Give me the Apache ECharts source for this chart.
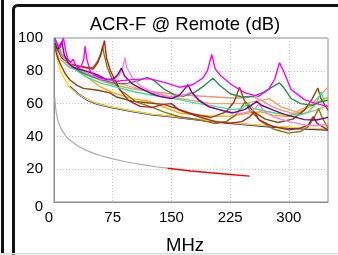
<!DOCTYPE html>
<html>
<head>
<meta charset="utf-8">
<script src="https://cdn.jsdelivr.net/npm/echarts@6/dist/echarts.min.js"></script>
<style>
html,body{margin:0;padding:0;background:#fff;}
#chart{width:338px;height:255px;}
</style>
</head>
<body>
<div id="chart"></div>
<script>
// axis ticks
var xTicks = [0, 75, 150, 225, 300];
var yTicks = [0, 20, 40, 60, 80, 100];

// limit lines [MHz, dB]
var limitGray = [[1,63.8],[2,57.8],[3,54.3],[5,49.8],[7,46.9],[10,43.8],[15,40.3],[20,37.8],[30,34.3],[40,31.8],[50,29.8],[60,28.2],[75,26.3],[90,24.7],[100,23.8],[115,22.6],[130,21.5],[145,20.6]];
var limitRed = [[145,20.6],[175,18.9],[200,17.8],[225,16.8],[250,15.8]];
var limitBlue = [[20,70.5],[30,66.2],[42,62.3],[55,59.8],[71.5,57.9],[100,55.3],[125,53.3],[150,52],[190,49.8],[228,48],[270,46.2],[310,44.9],[350,44]];
var limitGold = [[1,97],[3,90],[5.5,84.5],[8,80],[12,76.4],[18,71],[25,68],[30,66],[42,62.5],[55,60],[71.5,58.1],[100,55.5],[125,53.5],[150,52.2],[190,50],[228,48.2],[270,46.5],[310,45.3],[350,44.5]];

// measured pairs [MHz, dB]
var pairOrange = [[1,100],[5,94],[10,88],[20,83],[40,77],[60,70],[76,66.5],[100,63],[122,61.4],[140,58],[160,54.3],[185,53],[206,52.2],[228,52.5],[249,54.3],[265,55],[280,53],[299,52],[315,55],[330,59],[350,64]];
var pairSandy = [[1,98],[10,90],[30,82],[60,76],[100,70],[150,64],[200,60],[240,60],[265,62],[275,63],[290,58],[310,55],[330,60],[350,70]];
var pairSalmon = [[1,95],[6,88],[20,82],[40,78.7],[60,74],[76,71.5],[100,69],[122,67.5],[140,66.5],[160,65.4],[190,64.5],[228,63.4],[245,63.5],[253,64.4],[265,62],[278,58.3],[290,56],[303,54.3],[320,54],[335,56],[350,59]];
var pairBrown = [[1,95],[4,89],[7.7,84.5],[14,78.5],[20.4,74.4],[29,71.3],[37.5,69.3],[54.5,68.3],[71.5,66.5],[80,64],[101,61.4],[122,60.4],[140,59.5],[150,58],[175,54],[200,51.5],[220,55],[230,61],[237,70],[243,62],[255,55],[270,50.5],[286,48.5],[305,50.5],[320,56],[330,63],[337,69.5],[341,63],[350,56]];
var pairFirebrick = [[1,97],[10,88],[20,84],[30,83],[40,82],[50,81],[56,85],[60,90],[64.5,98.5],[67,88],[72,80],[84,68.5],[95,62],[110,58.3],[126,57.7],[140,59.5],[150,60],[160,56],[185,52],[206,49],[225,48],[240,49],[250,52],[256,55],[262,50],[280,46],[300,44],[315,45],[325,47],[331,52],[336,48],[350,44]];
var pairOlive = [[1,96],[10,88],[20,84],[30,83],[40,82],[50,82],[56,86],[60,91],[62,95],[64,90],[68,82],[75,74],[85,68],[93,65.4],[105,61],[122,58.3],[140,55],[160,52],[185,50.2],[206,47.8],[220,49],[232,53],[240,58],[244,61],[250,56],[265,49],[280,44.5],[299,42],[315,43],[325,46],[333,52],[338,57],[342,52],[350,45]];
var pairSpring = [[1,100],[5,95],[10,89],[20,83],[40,76.5],[60,72.5],[76,70.5],[100,67.5],[122,65.4],[140,64],[160,62.4],[185,60],[206,58.3],[228,56.3],[240,57],[248,60],[255,57],[270,55.5],[285,54],[299,53.3],[315,53],[325,55],[335,60],[341,67],[345,62],[350,62]];
var pairSeagreen = [[1,100],[10,90],[20,84],[35,79],[50,76],[65,74],[80,72],[95,72.5],[108,74],[119,76],[128,74],[140,69],[155,65],[165,64.5],[180,67],[192,71],[203,75.5],[212,71],[225,66],[240,64],[255,64.5],[268,67],[280,70.5],[288,72.6],[293,70],[303,63],[315,60],[330,59],[340,61],[350,62]];
var pairPurple = [[1,97],[5,93],[10,98],[13,90],[18,85],[25,82],[40,80],[55,77.6],[67,74.6],[76,75],[82,78],[86,81.7],[90,77],[100,72],[110,69.5],[125,66],[135,64.4],[150,63],[160,65],[167,69],[171,71.5],[176,67],[185,62],[198,58],[211,56.3],[228,54.3],[244,56.5],[255,60],[259,61.4],[265,59],[280,56],[295,53.3],[320,50.2],[335,50],[350,51.6]];
var pairViolet = [[1,97],[10,90],[20,84],[40,79],[60,75],[75,74],[83,77],[88,82],[90.6,88],[93,82],[100,76],[110,71],[125,67],[145,64],[165,65],[175,67],[180,64],[200,58],[220,55],[240,54],[255,56],[262,60],[267,56],[280,52],[300,49],[320,47],[335,46.5],[350,47.5]];
var pairMagenta = [[1,99],[5,96],[8,94],[12,100],[15,92],[18,87],[21,85],[24.7,87],[27,84],[31,82],[35,83],[38,87],[39.6,95],[42,87],[46,80],[52,77],[59,75.6],[72,74.6],[80,73.6],[100,74.6],[122,75.2],[143,72.6],[160,70],[177,71.5],[190,75.5],[196,80],[201.5,90],[206,81],[213,77],[227,71.5],[244,66.5],[261,64.4],[274,68.5],[282,75],[288,85],[294,79],[303,68.5],[320,62.4],[335,60],[350,58.3]];

function mk(data, color, w) {
	return {
		type: 'line',
		data: data,
		symbol: 'none',
		smooth: false,
		clip: true,
		lineStyle: { color: color, width: w || 1.4 }
	};
}

var myChart = echarts.init(document.getElementById('chart'));
var option = {
	animation: false,
	backgroundColor: '#fff',
	title: [{
		text: 'ACR-F @ Remote (dB)',
		left: 180,
		top: 10,
		textAlign: 'center',
		textStyle: { fontFamily: 'Liberation Sans', fontWeight: 'normal', fontSize: 18.5, color: '#000' }
	}, {
		text: 'MHz',
		left: 180,
		top: 231,
		textAlign: 'center',
		textStyle: { fontFamily: 'Liberation Sans', fontWeight: 'normal', fontSize: 18.5, color: '#000' }
	}],
	grid: {
		left: 54, right: 10, top: 38, bottom: 53,
		show: true, borderColor: '#8c8c8c', borderWidth: 1
	},
	xAxis: {
		type: 'value', min: xTicks[0], max: 350, interval: xTicks[1] - xTicks[0],
		axisLine: { lineStyle: { color: '#8c8c8c' } },
		axisTick: { show: false },
		splitLine: { lineStyle: { color: '#c4c4c4', type: [1, 2] } },
		axisLabel: {
			showMaxLabel: false, margin: 8,
			fontFamily: 'Liberation Sans', fontSize: 15, color: '#000',
			formatter: function (v) { return v === 0 ? '{z|0}' : String(v); },
			rich: { z: { fontFamily: 'Liberation Sans', fontSize: 15, color: '#000', padding: [0, 10, 0, 0] } }
		}
	},
	yAxis: {
		type: 'value', min: yTicks[0], max: yTicks[yTicks.length - 1], interval: yTicks[1] - yTicks[0],
		axisLine: { show: true, lineStyle: { color: '#8c8c8c' } },
		axisTick: { show: false },
		splitLine: { lineStyle: { color: '#c4c4c4', type: [1, 2] } },
		axisLabel: {
			margin: 11,
			fontFamily: 'Liberation Sans', fontSize: 15, color: '#000',
			formatter: function (v) { return v === 0 ? '{z|0}' : String(v); },
			rich: { z: { fontFamily: 'Liberation Sans', fontSize: 15, color: '#000', padding: [10, 0, 0, 0] } }
		}
	},
	graphic: [
		{ type: 'rect', shape: { x: 1, y: 0, width: 3, height: 253 }, style: { fill: '#111' } },
		{ type: 'rect', shape: { x: 13.5, y: 5.5, width: 340, height: 270, r: 4 }, style: { fill: 'none', stroke: '#111', lineWidth: 3 } },
		{ type: 'rect', shape: { x: 0, y: 253, width: 338, height: 1.5 }, style: { fill: '#dcdcdc' } }
	],
	series: [
		mk(limitGray, '#aaaaaa', 1.2),
		mk(limitRed, '#ff0000', 1.4),
		mk(limitBlue, '#0000ff', 1.8),
		mk(limitGold, '#ffd700', 1.4),
		mk(pairOrange, '#ffa500'),
		mk(pairSandy, '#f4a460'),
		mk(pairSalmon, '#e9967a'),
		mk(pairBrown, '#8b4513'),
		mk(pairOlive, '#808000'),
		mk(pairFirebrick, '#b22222'),
		mk(pairSpring, '#2ee6a0'),
		mk(pairSeagreen, '#2e8b57'),
		mk(pairViolet, '#ee82ee'),
		mk(pairPurple, '#800080'),
		mk(pairMagenta, '#ff00ff')
	]
};
myChart.setOption(option);
</script>
</body>
</html>
